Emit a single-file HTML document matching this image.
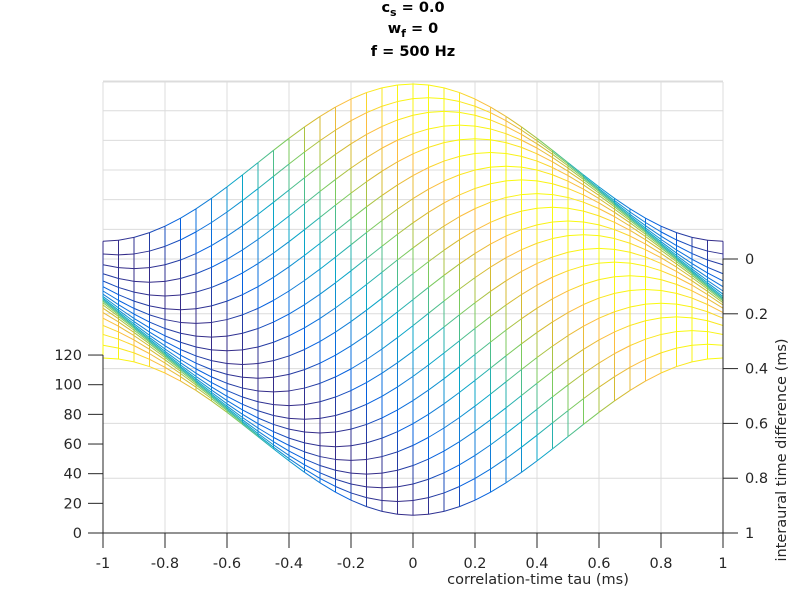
<!DOCTYPE html>
<html><head><meta charset="utf-8"><style>
body{margin:0;background:#fff;}
svg text{font-family:"DejaVu Sans","Liberation Sans",sans-serif;}
</style></head><body>
<svg id="s" width="800" height="600" viewBox="0 0 800 600" xmlns="http://www.w3.org/2000/svg">
<rect width="800" height="600" fill="#fff"/>
<g id="grid" stroke="#dcdcdc" stroke-width="1"></g>
<g id="mesh" stroke-width="1" fill="none"></g>
<g id="axes" stroke="#262626" stroke-width="1" fill="#262626" font-size="14.5"></g>
<g font-size="14.5" font-weight="bold" text-anchor="middle" fill="#000">
<text x="413" y="12">c<tspan font-size="11" dy="4">s</tspan><tspan dy="-4"> = 0.0</tspan></text>
<text x="413" y="33">w<tspan font-size="11" dy="4">f</tspan><tspan dy="-4"> = 0</tspan></text>
<text x="413" y="56">f = 500 Hz</text>
</g>
<text x="538" y="584" font-size="14.5" text-anchor="middle" fill="#262626">correlation-time tau (ms)</text>
<text transform="translate(786,450) rotate(-90)" font-size="14.5" text-anchor="middle" fill="#262626">interaural time difference (ms)</text>
</svg>
<script>
var NS="http://www.w3.org/2000/svg";
function el(p,t,a){var e=document.createElementNS(NS,t);for(var k in a)e.setAttribute(k,a[k]);p.appendChild(e);return e;}
var X=function(t){return 413+310*t;};
var Y=function(itd,z){return 259+274*itd-1.483*z;};
var g=document.getElementById('grid');
for(var i=0;i<=10;i++){var x=X(-1+0.2*i);el(g,'line',{x1:x,y1:82,x2:x,y2:533});}
for(var z=20;z<=120;z+=20){var y=Y(0,z);el(g,'line',{x1:103,y1:y,x2:723,y2:y});}
for(var k=0;k<5;k++){var y=Y(k*0.2,0);el(g,'line',{x1:103,y1:y,x2:723,y2:y});}
el(g,'line',{x1:103,y1:82,x2:723,y2:82});
el(g,'line',{x1:723,y1:82,x2:723,y2:259});
var stops=[[0.2081,0.1663,0.5292],[0.0117,0.3875,0.8820],[0.0779,0.5040,0.8384],[0.0232,0.6407,0.7925],[0.2059,0.7212,0.6345],[0.5044,0.7993,0.3480],[0.8185,0.7327,0.1894],[0.9856,0.7372,0.2537],[0.9763,0.9831,0.0538]];
function col(z){var t=(z-12)/106;t=Math.max(0,Math.min(1,t))*8;var i=Math.min(7,Math.floor(t)),f=t-i;var a=stops[i],b=stops[i+1];
return 'rgb('+[0,1,2].map(function(j){return Math.round(255*(a[j]+(b[j]-a[j])*f));}).join(',')+')';}
function Z(t,d){return 65+53*Math.cos(Math.PI*(t-d));}
var m=document.getElementById('mesh');
var NT=40,ND=20;
for(var j=0;j<=ND;j++){var d=j/ND;
 for(var i=0;i<NT;i++){var t1=-1+2*i/NT,t2=-1+2*(i+1)/NT,z1=Z(t1,d),z2=Z(t2,d);
  el(m,'line',{x1:X(t1).toFixed(2),y1:Y(d,z1).toFixed(2),x2:X(t2).toFixed(2),y2:Y(d,z2).toFixed(2),stroke:col((z1+z2)/2)});}}
for(var i=0;i<=NT;i++){var t=-1+2*i/NT;
 for(var j=0;j<ND;j++){var d1=j/ND,d2=(j+1)/ND,z1=Z(t,d1),z2=Z(t,d2);
  el(m,'line',{x1:X(t).toFixed(2),y1:Y(d1,z1).toFixed(2),x2:X(t).toFixed(2),y2:Y(d2,z2).toFixed(2),stroke:col((z1+z2)/2)});}}
var a=document.getElementById('axes');
el(a,'line',{x1:103,y1:355,x2:103,y2:548,fill:'none'});
el(a,'line',{x1:103,y1:533,x2:723,y2:533,fill:'none'});
el(a,'line',{x1:723,y1:259,x2:723,y2:548,fill:'none'});
for(var z=0;z<=120;z+=20){var y=Y(1,z);el(a,'line',{x1:88,y1:y,x2:103,y2:y});
 var tx=el(a,'text',{x:82,y:y+5,'text-anchor':'end',stroke:'none'});tx.textContent=z;}
var xl=['-1','-0.8','-0.6','-0.4','-0.2','0','0.2','0.4','0.6','0.8','1'];
for(var i=0;i<=10;i++){var x=X(-1+0.2*i);el(a,'line',{x1:x,y1:533,x2:x,y2:548});
 var tx=el(a,'text',{x:x,y:568,'text-anchor':'middle',stroke:'none'});tx.textContent=xl[i];}
var rl=['0','0.2','0.4','0.6','0.8','1'];
for(var k=0;k<=5;k++){var y=Y(k*0.2,0);el(a,'line',{x1:723,y1:y,x2:738,y2:y});
 var tx=el(a,'text',{x:745,y:y+5,'text-anchor':'start',stroke:'none'});tx.textContent=rl[k];}
</script>
</body></html>
